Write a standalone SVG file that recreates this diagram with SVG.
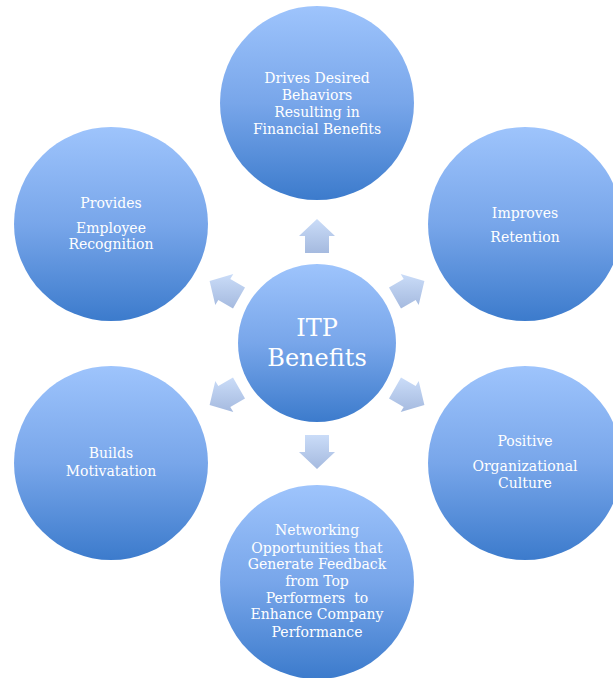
<svg xmlns="http://www.w3.org/2000/svg" width="613" height="678" viewBox="0 0 613 678">
<defs>
<linearGradient id="gc" x1="0" y1="0" x2="0" y2="1">
<stop offset="0" stop-color="#9ec4fc"/>
<stop offset="0.5" stop-color="#78a6ea"/>
<stop offset="1" stop-color="#3c7bcc"/>
</linearGradient>
<linearGradient id="ga" x1="0" y1="0" x2="0" y2="1">
<stop offset="0" stop-color="#cadcf8"/>
<stop offset="1" stop-color="#a5badf"/>
</linearGradient>
</defs>
<style>
.c{fill:url(#gc)}
.a{fill:url(#ga)}
.t{font-family:"DejaVu Serif","Liberation Serif",serif;font-size:14px;fill:#ffffff;text-anchor:middle}
.big{font-size:24px}
</style>
<rect width="613" height="678" fill="#ffffff"/>
<g id="connectors">
<polygon class="a" points="305,253 305,236 299,236 317,219 335,236 329,236 329,253"/>
<polygon class="a" points="329,435 329,452 335,452 317,469 299,452 305,452 305,435"/>
<polygon class="a" points="389.0,287.6 403.7,279.1 400.7,273.9 424.4,281.0 418.7,305.1 415.7,299.9 401.0,308.4"/>
<polygon class="a" points="401.0,377.6 415.7,386.1 418.7,380.9 424.4,405.0 400.7,412.1 403.7,406.9 389.0,398.4"/>
<polygon class="a" points="245.0,287.6 230.3,279.1 233.3,273.9 209.6,281.0 215.3,305.1 218.3,299.9 233.0,308.4"/>
<polygon class="a" points="233.0,377.6 218.3,386.1 215.3,380.9 209.6,405.0 233.3,412.1 230.3,406.9 245.0,398.4"/>
</g>
<g id="center">
<circle class="c" cx="317" cy="343" r="79"/>
<text class="t big" x="317" y="336">ITP</text>
<text class="t big" x="317" y="366">Benefits</text>
</g>
<g id="top">
<circle class="c" cx="317" cy="103" r="97"/>
<text class="t" x="317" y="83">Drives Desired</text>
<text class="t" x="317" y="100">Behaviors</text>
<text class="t" x="317" y="117">Resulting in</text>
<text class="t" x="317" y="134">Financial Benefits</text>
</g>
<g id="top-left">
<circle class="c" cx="111" cy="224" r="97"/>
<text class="t" x="111" y="208">Provides</text>
<text class="t" x="111" y="233">Employee</text>
<text class="t" x="111" y="249">Recognition</text>
</g>
<g id="top-right">
<circle class="c" cx="525" cy="224" r="97"/>
<text class="t" x="525" y="218">Improves</text>
<text class="t" x="525" y="242">Retention</text>
</g>
<g id="bottom-left">
<circle class="c" cx="111" cy="463" r="97"/>
<text class="t" x="111" y="458">Builds</text>
<text class="t" x="111" y="476">Motivatation</text>
</g>
<g id="bottom-right">
<circle class="c" cx="525" cy="463" r="97"/>
<text class="t" x="525" y="446">Positive</text>
<text class="t" x="525" y="471">Organizational</text>
<text class="t" x="525" y="488">Culture</text>
</g>
<g id="bottom">
<circle class="c" cx="317" cy="582" r="97"/>
<text class="t" x="317" y="535">Networking</text>
<text class="t" x="317" y="553">Opportunities that</text>
<text class="t" x="317" y="569">Generate Feedback</text>
<text class="t" x="317" y="586">from Top</text>
<text class="t" x="317" y="603">Performers&#160; to</text>
<text class="t" x="317" y="619">Enhance Company</text>
<text class="t" x="317" y="637">Performance</text>
</g>
</svg>
